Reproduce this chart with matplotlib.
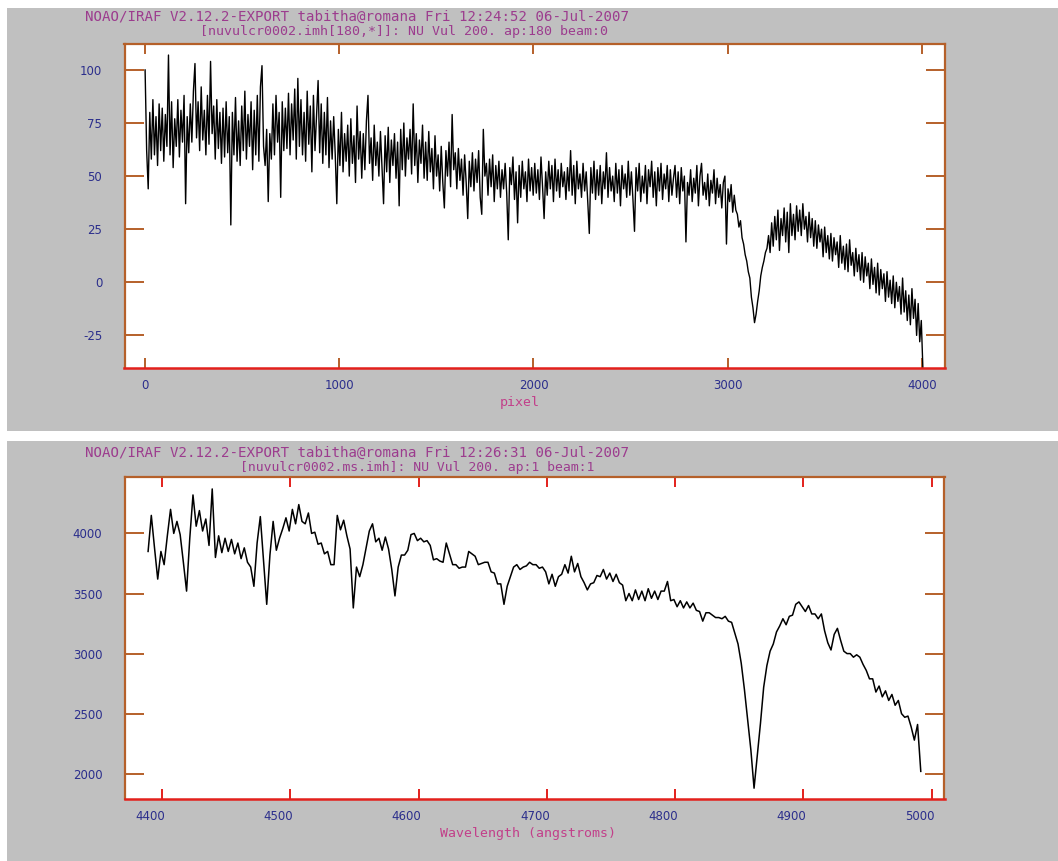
import numpy as np
import matplotlib
matplotlib.use("Agg")
import matplotlib.pyplot as plt
from matplotlib.patches import Rectangle
import matplotlib.transforms as mtransforms

# ---------------- data ----------------
# top panel: flux versus pixel (pixels 1 .. 4004, evenly spaced samples)
pixel_first, pixel_last = 1, 4004
flux_pixel = [
    100, 62, 44, 80, 58, 86, 60, 78, 55, 84,
    62, 82, 57, 79, 64, 107, 60, 85, 54, 77,
    64, 86, 59, 81, 66, 88, 37, 78, 61, 84,
    66, 90, 103, 68, 85, 62, 92, 67, 81, 60,
    88, 65, 104, 70, 83, 58, 86, 63, 80, 56,
    82, 59, 85, 61, 78, 27, 80, 60, 87, 57,
    76, 55, 83, 62, 90, 58, 79, 64, 85, 53,
    81, 60, 88, 57, 92, 102, 64, 55, 72, 38,
    70, 58, 84, 60, 88, 66, 80, 40, 85, 62,
    82, 63, 89, 60, 84, 67, 91, 58, 96, 64,
    86, 60, 80, 57, 90, 65, 83, 52, 88, 62,
    79, 95, 61, 84, 56, 80, 60, 87, 54, 76,
    58, 78, 60, 37, 72, 55, 80, 52, 70, 57,
    74, 50, 77, 56, 69, 47, 83, 58, 71, 49,
    70, 53, 76, 88, 56, 68, 48, 74, 55, 66,
    50, 71, 54, 37, 69, 52, 73, 47, 67, 55,
    70, 49, 66, 36, 72, 53, 75, 50, 68, 58,
    72, 51, 84, 55, 70, 47, 67, 56, 74, 49,
    66, 48, 71, 52, 63, 44, 69, 50, 60, 43,
    64, 47, 35, 62, 50, 66, 45, 79, 53, 61,
    44, 63, 48, 58, 41, 60, 47, 30, 57, 45,
    61, 43, 58, 47, 62, 40, 32, 72, 50, 56,
    41, 58, 45, 60, 38, 55, 44, 57, 40, 53,
    44, 56, 42, 20, 54, 46, 59, 39, 52, 28,
    55, 40, 57, 44, 52, 38, 58, 43, 54, 41,
    56, 42, 53, 39, 59, 45, 30, 52, 41, 57,
    44, 55, 38, 58, 43, 53, 40, 56, 45, 52,
    39, 54, 43, 62, 41, 55, 37, 57, 44, 51,
    40, 56, 43, 52, 38, 23, 54, 42, 57, 39,
    53, 41, 55, 37, 52, 44, 61, 40, 54, 43,
    50, 38, 56, 42, 53, 36, 55, 44, 51, 40,
    57, 41, 52, 39, 24, 54, 43, 56, 38, 50,
    42, 55, 37, 53, 45, 57, 40, 52, 36, 54,
    43, 56, 39, 51, 44, 55, 38, 53, 41, 49,
    55, 40, 52, 37, 54, 43, 50, 19, 47, 41,
    53, 38, 49, 42, 55, 36, 50, 56, 41, 47,
    39, 51, 36, 48, 42, 53, 37, 49, 40, 46,
    35, 47, 50, 18, 44, 38, 46, 33, 41, 34,
    32, 26, 29, 21, 18, 13, 10, 5, 2, -7,
    -12, -19, -15, -9, -4, 3, 7, 10, 14, 16,
    22, 14, 28, 17, 31, 20, 34, 15, 30, 22,
    35, 19, 33, 14, 37, 22, 32, 20, 36, 24,
    34, 22, 37, 25, 31, 19, 33, 21, 30, 17,
    29, 16, 27, 19, 25, 12, 26, 14, 22, 11,
    23, 10, 21, 13, 19, 7, 22, 9, 17, 6,
    18, 5, 20, 8, 14, 3, 16, 5, 13, 1,
    14, 0, 12, 3, 9, -3, 11, -1, 7, -5,
    9, -6, 6, -3, 4, -9, 5, -7, 1, -10,
    3, -12, 0, -9, -2, -15, 2, -14, -4, -18,
    -6, -20, -3, -17, -8, -25, -10, -28, -18, -40,
]

# bottom panel: flux versus wavelength (4389 .. 4991.5 A, evenly spaced samples)
wave_first, wave_last = 4389.0, 4991.5
flux_wave = [
    3850, 4150, 3880, 3620, 3850, 3740, 3980, 4200, 4000, 4100,
    3990, 3760, 3520, 3960, 4320, 4060, 4190, 4020, 4120, 3900,
    4370, 3800, 3980, 3840, 3960, 3850, 3950, 3830, 3920, 3790,
    3880, 3760, 3720, 3560, 3920, 4140, 3780, 3410, 3820, 4100,
    3860, 3960, 4040, 4130, 4020, 4200, 4080, 4240, 4100, 4080,
    4170, 4000, 4010, 3910, 3920, 3830, 3850, 3740, 3740, 4150,
    4030, 4110, 3980, 3870, 3380, 3720, 3640, 3740, 3880, 4020,
    4080, 3930, 3960, 3860, 3970, 3870, 3700, 3480, 3720, 3820,
    3820, 3860, 3990, 4000, 3940, 3960, 3930, 3940, 3900, 3780,
    3790, 3770, 3760, 3920, 3830, 3740, 3740, 3710, 3720, 3720,
    3850, 3830, 3810, 3740, 3750, 3760, 3760, 3680, 3670, 3580,
    3580, 3410, 3560, 3640, 3720, 3740, 3700, 3720, 3730, 3760,
    3740, 3740, 3710, 3720, 3680, 3580, 3660, 3560, 3640, 3660,
    3740, 3670, 3810, 3680, 3750, 3640, 3590, 3530, 3580, 3590,
    3650, 3640, 3700, 3620, 3670, 3600, 3660, 3590, 3570, 3440,
    3500, 3440, 3530, 3450, 3520, 3440, 3540, 3460, 3520, 3450,
    3520, 3520, 3600, 3440, 3450, 3390, 3440, 3380, 3430, 3380,
    3420, 3360, 3350, 3270, 3340, 3340, 3320, 3300, 3300, 3290,
    3310, 3270, 3260, 3170, 3080, 2920, 2700, 2450, 2200, 1880,
    2150, 2420, 2720, 2900, 3020, 3080, 3180, 3230, 3290, 3240,
    3310, 3320, 3410, 3430, 3390, 3350, 3400, 3330, 3330, 3290,
    3330, 3190, 3090, 3030, 3160, 3210, 3110, 3020, 3000, 3000,
    2970, 2990, 2970, 2910, 2860, 2790, 2790, 2680, 2730, 2640,
    2690, 2610, 2660, 2570, 2610, 2500, 2470, 2480, 2390, 2280,
    2410, 2020,
]

top_xticks = [0, 1000, 2000, 3000, 4000]
top_yticks = [-25, 0, 25, 50, 75, 100]
bot_xticks = [4400, 4500, 4600, 4700, 4800, 4900, 5000]
bot_yticks = [2000, 2500, 3000, 3500, 4000]

top_title1 = "NOAO/IRAF V2.12.2-EXPORT tabitha@romana Fri 12:24:52 06-Jul-2007"
top_title2 = "[nuvulcr0002.imh[180,*]]: NU Vul 200. ap:180 beam:0"
bot_title1 = "NOAO/IRAF V2.12.2-EXPORT tabitha@romana Fri 12:26:31 06-Jul-2007"
bot_title2 = "[nuvulcr0002.ms.imh]: NU Vul 200. ap:1 beam:1"
top_xlabel = "pixel"
bot_xlabel = "Wavelength (angstroms)"

# ---------------- styling ----------------
W, H = 1058, 861
GRAY = "#c0c0c0"
BROWN = "#b5602a"
RED = "#e3201c"
NAVY = "#2b2e8c"
PURPLE = "#9c3c8e"
PINK = "#c2408a"
MONO = ["DejaVu Sans Mono"]

fig = plt.figure(figsize=(W / 100, H / 100), dpi=100, facecolor="white")

# gray IRAF panels
fig.patches.append(Rectangle((7 / W, 1 - 431 / H), 1 - 7 / W, (431 - 8) / H,
                             transform=fig.transFigure, facecolor=GRAY,
                             edgecolor="none", zorder=-10))
fig.patches.append(Rectangle((7 / W, 0), 1 - 7 / W, (H - 441) / H,
                             transform=fig.transFigure, facecolor=GRAY,
                             edgecolor="none", zorder=-10))


def px_axes(left, top, right, bottom):
    return fig.add_axes([left / W, 1 - bottom / H, (right - left) / W, (bottom - top) / H])


def style(ax, xticks, yticks, xlim, ylim, bottom_tick_color):
    ax.set_facecolor("white")
    ax.set_xlim(*xlim)
    ax.set_ylim(*ylim)
    ax.set_xticks(xticks)
    ax.set_yticks(yticks)
    ax.set_xticklabels([str(t) for t in xticks])
    ax.set_yticklabels([str(t) for t in yticks])
    for side in ("left", "right", "top"):
        ax.spines[side].set_color(BROWN)
        ax.spines[side].set_linewidth(1.6)
    ax.spines["bottom"].set_color(RED)
    ax.spines["bottom"].set_linewidth(1.8)
    ax.tick_params(axis="y", direction="in", left=True, right=True, length=13.5,
                   width=1.4, color=BROWN, labelcolor=NAVY, labelsize=8.5, pad=16)
    ax.tick_params(axis="x", direction="in", bottom=True, top=True, length=7,
                   width=1.4, color=bottom_tick_color, labelcolor=NAVY,
                   labelsize=8.5, pad=8)
    for t in ax.xaxis.get_major_ticks():
        t.tick2line.set_color(RED)


# ---------------- top panel ----------------
ax1 = px_axes(124.5, 44, 945, 368.3)
pix = np.linspace(pixel_first, pixel_last, len(flux_pixel))
ax1.plot(pix, flux_pixel, color="black", lw=1.0)
style(ax1, top_xticks, top_yticks, (-105, 4118), (-40.5, 112.2), BROWN)
ax1.set_xlabel(top_xlabel, color=PINK, fontsize=9.5, family=MONO, va="center")
ax1.xaxis.set_label_coords(0.482, -0.104)

fig.text(85 / W, 1 - 17 / H, top_title1, color=PURPLE, fontsize=10.2,
         family=MONO, ha="left", va="center")
fig.text(200 / W, 1 - 32 / H, top_title2, color=PURPLE, fontsize=9.5,
         family=MONO, ha="left", va="center")

# ---------------- bottom panel ----------------
ax2 = px_axes(124.5, 476.7, 944.5, 799)
wave = np.linspace(wave_first, wave_last, len(flux_wave))
ax2.plot(wave, flux_wave, color="black", lw=1.1)
style(ax2, bot_xticks, bot_yticks, (4370.6, 5010), (1790, 4472), RED)
ax2.set_xlabel(bot_xlabel, color=PINK, fontsize=9.5, family=MONO, va="center")
ax2.xaxis.set_label_coords(0.492, -0.1055)
shift = mtransforms.ScaledTranslation(-12 / 100, 0, fig.dpi_scale_trans)
for lbl in ax2.get_xticklabels():
    lbl.set_transform(lbl.get_transform() + shift)

fig.text(85 / W, 1 - 453 / H, bot_title1, color=PURPLE, fontsize=10.2,
         family=MONO, ha="left", va="center")
fig.text(240 / W, 1 - 467 / H, bot_title2, color=PURPLE, fontsize=9.45,
         family=MONO, ha="left", va="center")

fig.savefig("out.png", dpi=100, facecolor="white")
